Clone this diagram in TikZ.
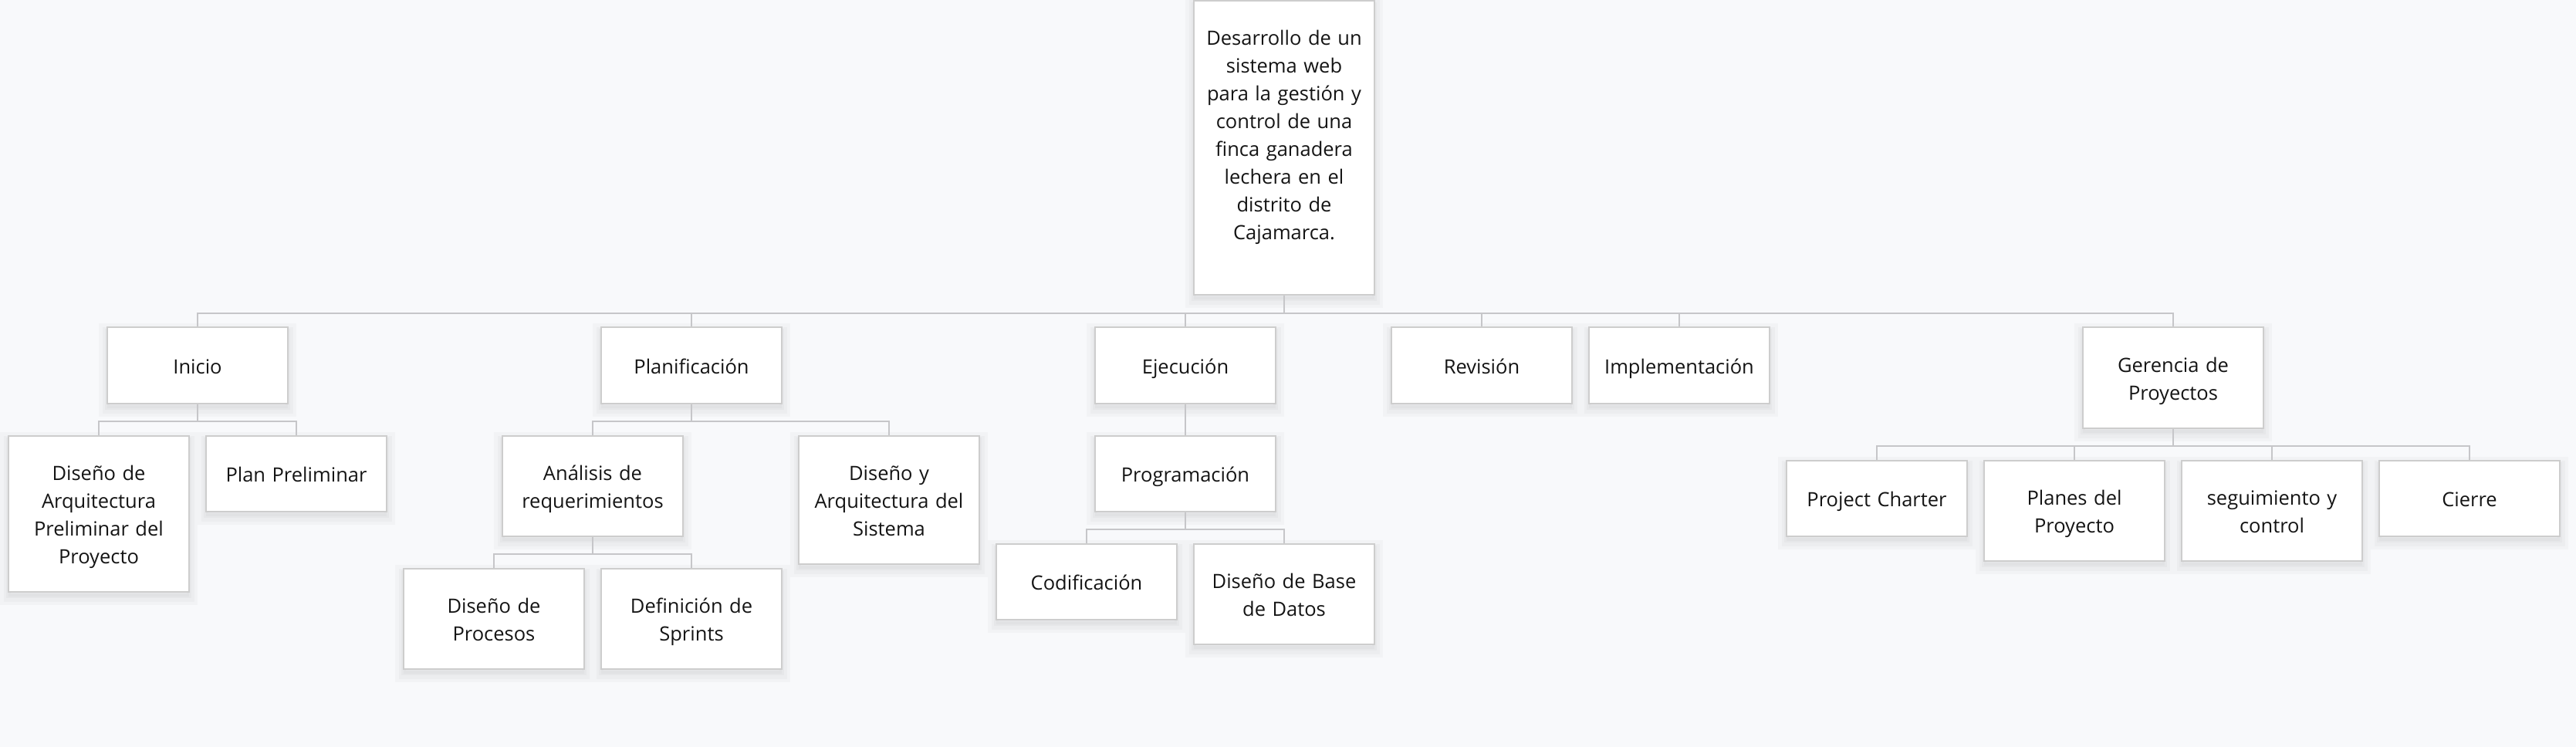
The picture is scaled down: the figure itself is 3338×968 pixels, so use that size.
\documentclass[tikz,border=0pt]{standalone}
\usepackage{fontspec}
\setmainfont{Open Sans}
\definecolor{bg}{HTML}{F8F9FB}
\definecolor{linegray}{HTML}{C6C6C9}
\definecolor{boxgray}{HTML}{CDCDCD}
\definecolor{txt}{HTML}{141414}
\newcommand\linestrut{\rule[-7.2pt]{0pt}{36pt}}
\tikzset{
  wbs/.style={rectangle, draw=boxgray, line width=2pt, fill=white,
    minimum width=234pt, text width=224pt, align=center, inner sep=0pt,
    text=txt, font=\fontsize{25.5}{36}\selectfont,
    execute at begin node=\linestrut, execute at end node=\linestrut,
    preaction={draw=black, draw opacity=0.022, line width=22pt, fill=black, fill opacity=0.02, transform canvas={yshift=-6pt}},
    preaction={draw=black, draw opacity=0.022, line width=13pt, transform canvas={yshift=-6pt}},
    preaction={draw=black, draw opacity=0.025, line width=6pt, transform canvas={yshift=-5pt}}},
  conn/.style={draw=linegray, line width=2pt}
}
\begin{document}
\begin{tikzpicture}[x=1pt, y=1pt]
\fill[bg] (0,0) rectangle (3338,-968);
\useasboundingbox (0,0) rectangle (3338,-968);

% root
\node[wbs, minimum height=381pt] (root) at (1664,-191.5)
  {Desarrollo de un\\sistema web\\para la gestión y\\control de una\\finca ganadera\\lechera en el\\distrito de\\Cajamarca.\\};

% level 1
\node[wbs, minimum height=99pt] (inicio) at (256,-473.5) {Inicio};
\node[wbs, minimum height=99pt] (planif) at (896,-473.5) {Planificación};
\node[wbs, minimum height=99pt] (ejec) at (1536,-473.5) {Ejecución};
\node[wbs, minimum height=99pt] (revis) at (1920,-473.5) {Revisión};
\node[wbs, minimum height=99pt] (implem) at (2176,-473.5) {Implementación};
\node[wbs, minimum height=131pt] (geren) at (2816,-489.5) {Gerencia de\\Proyectos};

% Inicio children
\node[wbs, minimum height=202pt] (disarq) at (128,-666) {Diseño de\\Arquitectura\\Preliminar del\\Proyecto};
\node[wbs, minimum height=98pt] (planpre) at (384,-614) {Plan Preliminar};

% Planificacion children
\node[wbs, minimum height=130pt] (analisis) at (768,-630) {Análisis de\\requerimientos};
\node[wbs, minimum height=166pt] (disarqsis) at (1152,-648) {Diseño y\\Arquitectura del\\Sistema};
\node[wbs, minimum height=130pt] (disproc) at (640,-802) {Diseño de\\Procesos};
\node[wbs, minimum height=130pt] (defspr) at (896,-802) {Definición de\\Sprints};

% Ejecucion children
\node[wbs, minimum height=98pt] (prog) at (1536,-614) {Programación};
\node[wbs, minimum height=98pt] (codif) at (1408,-754) {Codificación};
\node[wbs, minimum height=130pt] (disbd) at (1664,-770) {Diseño de Base\\de Datos};

% Gerencia children
\node[wbs, minimum height=98pt] (charter) at (2432,-646) {Project Charter};
\node[wbs, minimum height=130pt] (planes) at (2688,-662) {Planes del\\Proyecto};
\node[wbs, minimum height=130pt] (seguim) at (2944,-662) {seguimiento y\\control};
\node[wbs, minimum height=98pt] (cierre) at (3200,-646) {Cierre};

% connectors
\foreach \c in {inicio,planif,ejec,revis,implem,geren}
  \draw[conn] (root.south) -- ++(0,-23) -| (\c.north);
\foreach \c in {disarq,planpre}
  \draw[conn] (inicio.south) -- ++(0,-22) -| (\c.north);
\foreach \c in {analisis,disarqsis}
  \draw[conn] (planif.south) -- ++(0,-22) -| (\c.north);
\foreach \c in {disproc,defspr}
  \draw[conn] (analisis.south) -- ++(0,-22) -| (\c.north);
\draw[conn] (ejec.south) -- (prog.north);
\foreach \c in {codif,disbd}
  \draw[conn] (prog.south) -- ++(0,-22) -| (\c.north);
\foreach \c in {charter,planes,seguim,cierre}
  \draw[conn] (geren.south) -- ++(0,-22) -| (\c.north);
\end{tikzpicture}
\end{document}
